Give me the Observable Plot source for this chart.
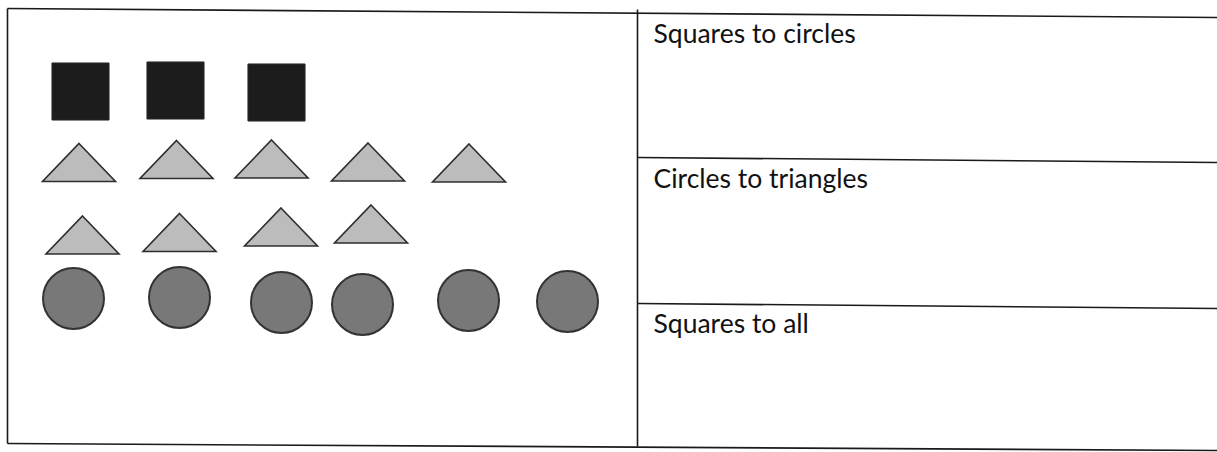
<!DOCTYPE html>
<html>
<head>
<meta charset="utf-8">
<script src="https://cdn.jsdelivr.net/npm/d3@7"></script>
<script src="https://cdn.jsdelivr.net/npm/@observablehq/plot@0.6"></script>
<style>
  html, body { margin: 0; padding: 0; background: #fff; }
  #chart svg { display: block; }
</style>
</head>
<body>
<div id="chart"></div>
<script>
// Shape centres (worksheet coordinates, y grows downward)
const squareX = [80, 175, 276];
const squareY = [91, 90, 92];

const triangleX = [78.5, 176, 271, 367.5, 468.5, 82, 179, 280.5, 370.5];
const triangleY = [162, 159, 158.5, 161.5, 162.5, 234.5, 232, 226.5, 223.5];

const circleX = [73, 179, 281, 362, 468, 567];
const circleY = [298, 297, 302, 304, 300, 301];

// Table rules of the worksheet
const ruleX1 = [7, 7, 7, 637, 637, 637];
const ruleY1 = [8, 443, 8, 9, 157, 303];
const ruleX2 = [1217, 1217, 7, 637, 1217, 1217];
const ruleY2 = [17, 450, 443, 446, 162, 308];

// Row labels of the right column
const labels = ["Squares to circles", "Circles to triangles", "Squares to all"];
const labelX = [653, 653, 653];
const labelY = [42, 187, 332];

const squares = squareX.map((x, i) => ({x, y: squareY[i]}));
const triangles = triangleX.map((x, i) => ({x, y: triangleY[i]}));
const circles = circleX.map((x, i) => ({x, y: circleY[i]}));
const rules = ruleX1.map((x1, i) => ({x1, y1: ruleY1[i], x2: ruleX2[i], y2: ruleY2[i]}));
const texts = labels.map((t, i) => ({t, x: labelX[i], y: labelY[i]}));

// wide isosceles triangle symbol (width 2r, height ~1.04r)
const wideTriangle = {
  draw(context, size) {
    const r = Math.sqrt(size / Math.PI);
    const h = r * 1.04;
    context.moveTo(0, -h / 2);
    context.lineTo(r, h / 2);
    context.lineTo(-r, h / 2);
    context.closePath();
  }
};

const chart = Plot.plot({
  width: 1217,
  height: 452,
  margin: 0,
  style: {background: "#fff"},
  x: {domain: [0, 1217], range: [0, 1217], axis: null},
  y: {domain: [0, 452], range: [0, 452], axis: null},
  marks: [
    Plot.link(rules, {x1: "x1", y1: "y1", x2: "x2", y2: "y2", stroke: "#1a1a1a", strokeWidth: 1.6}),
    Plot.dot(squares, {x: "x", y: "y", symbol: "square", r: 32.2, fill: "#1c1c1c", stroke: "#2a2a2a", strokeWidth: 1}),
    Plot.dot(triangles, {x: "x", y: "y", symbol: wideTriangle, r: 36.5, fill: "#bcbcbc", stroke: "#2e2e2e", strokeWidth: 1.6, strokeLinejoin: "miter"}),
    Plot.dot(circles, {x: "x", y: "y", symbol: "circle", r: 30.5, fill: "#787878", stroke: "#333", strokeWidth: 2}),
    Plot.text(texts, {x: "x", y: "y", text: "t", textAnchor: "start", lineAnchor: "bottom", fontSize: 26.5, fill: "#111", fontFamily: "Lato, 'Open Sans', sans-serif"})
  ]
});
document.getElementById("chart").appendChild(chart);
</script>
</body>
</html>
